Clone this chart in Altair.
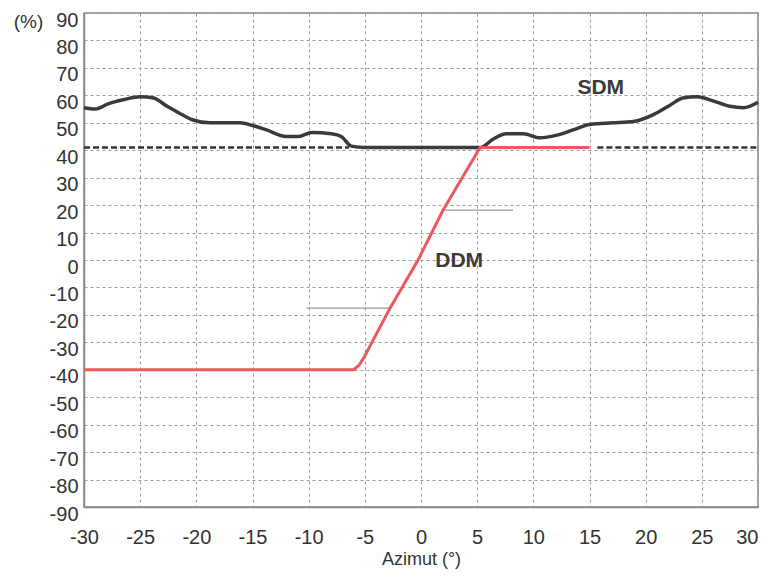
import altair as alt
import pandas as pd

# SDM curve (black)
sdm_x = [-30, -29, -27.8, -26.4, -25, -23.8, -22.6, -21.5, -20.3, -18.8, -16.1, -15, -13.8, -12,
         -10.9, -9.7, -8.0, -7.1, -6.2, -5, 0, 5.3, 6.4, 7.6, 9.1, 10.6, 12.1, 13.6, 15.1, 17.1,
         18.9, 20.7, 22.2, 23.3, 24.6, 26, 27.5, 28.7, 30]
sdm_y = [55.5, 55, 57, 58.5, 59.5, 59, 56, 53.5, 51, 50, 50, 49, 47.5, 45,
         45, 46.5, 46, 45, 41.5, 41, 41, 41, 44, 46, 46, 44.5, 45.5, 47.5, 49.5, 50,
         50.5, 53, 56.5, 59, 59.5, 58, 56, 55.5, 57.5]

# DDM curve (red)
ddm_x = [-30, -6.0, -5.5, -5.0, -4.5, -2.75, -0.26, 1.97, 5.26, 15]
ddm_y = [-40, -40, -38.3, -35, -31, -17.5, 0, 18.2, 41, 41]

# dashed reference segments at 41 %
ref_x1 = [-30, 15.7]
ref_x2 = [-6.4, 30]
ref_y = [41, 41]

# faint leader lines
lead_x1 = [1.97, -10.2]
lead_x2 = [8.2, -2.75]
lead_y = [18.2, -17.5]

labels = ["SDM", "DDM"]
label_x = [16.0, 3.4]
label_y = [62.5, -0.5]

xticks = list(range(-30, 31, 5))
yticks = list(range(-90, 91, 10))

sdm = pd.DataFrame({"x": sdm_x, "y": sdm_y})
ddm = pd.DataFrame({"x": ddm_x, "y": ddm_y})
ref = pd.DataFrame({"x": ref_x1, "x2": ref_x2, "y": ref_y})
lead = pd.DataFrame({"x": lead_x1, "x2": lead_x2, "y": lead_y})
lab = pd.DataFrame({"t": labels, "x": label_x, "y": label_y})

xs = alt.Scale(domain=[-30, 30], nice=False, zero=False)
ys = alt.Scale(domain=[-90, 90], nice=False, zero=False)

font = "Liberation Sans"

xax = alt.Axis(values=xticks, title="Azimut (°)", grid=True, gridDash=[3, 3], gridColor="#9a9a9a",
               gridWidth=1, ticks=False, domainColor="#888", domainWidth=1.5,
               labelExpr="toString(datum.value)",
               labelAlign=alt.condition("datum.value == 30", alt.value("right"), alt.value("center")),
               labelFont=font, labelFontSize=20, labelColor="#333", labelPadding=20,
               titleFont=font, titleFontSize=18, titleFontWeight="normal", titleColor="#333",
               titlePadding=3, labelFlush=False)
yax = alt.Axis(values=yticks, title="(%)", grid=True, gridDash=[3, 3], gridColor="#9a9a9a",
               gridWidth=1, ticks=False, domainColor="#888", domainWidth=1.5,
               labelExpr="toString(datum.value)",
               labelFont=font, labelFontSize=20, labelColor="#333", labelPadding=6,
               labelOffset=7, labelFlush=False,
               titleFont=font, titleFontSize=19, titleFontWeight="normal", titleColor="#333",
               titleAngle=0, titleX=-56, titleY=8, titleAlign="center", titleBaseline="middle")

base_x = alt.X("x:Q", scale=xs, axis=xax)
base_y = alt.Y("y:Q", scale=ys, axis=yax)

lead_layer = alt.Chart(lead).mark_rule(color="#9a9a9a", strokeWidth=1.2).encode(
    x=alt.X("x:Q", scale=xs, axis=xax), x2="x2", y=alt.Y("y:Q", scale=ys, axis=yax))

ref_layer = alt.Chart(ref).mark_rule(color="#333", strokeWidth=2.5, strokeDash=[6, 3]).encode(
    x=alt.X("x:Q", scale=xs, axis=xax), x2="x2", y=alt.Y("y:Q", scale=ys, axis=yax))

sdm_layer = alt.Chart(sdm).mark_line(color="#3a3a3a", strokeWidth=3.5, interpolate="monotone").encode(
    x=base_x, y=base_y)

ddm_layer = alt.Chart(ddm).mark_line(color="#e85a5e", strokeWidth=3, interpolate="linear").encode(
    x=base_x, y=base_y)

text_layer = alt.Chart(lab).mark_text(font=font, fontSize=21, fontWeight="bold", color="#3a3a3a").encode(
    x=base_x, y=base_y, text="t:N")

chart = alt.layer(lead_layer, ref_layer, sdm_layer, ddm_layer, text_layer).properties(
    width=674, height=494,
    autosize=alt.AutoSizeParams(type="none"),
    padding={"left": 76, "top": 5, "right": 4, "bottom": 64},
).configure_view(stroke="#888", strokeWidth=1.5)

chart.save("out.html", embed_options={"renderer": "svg", "actions": False})
